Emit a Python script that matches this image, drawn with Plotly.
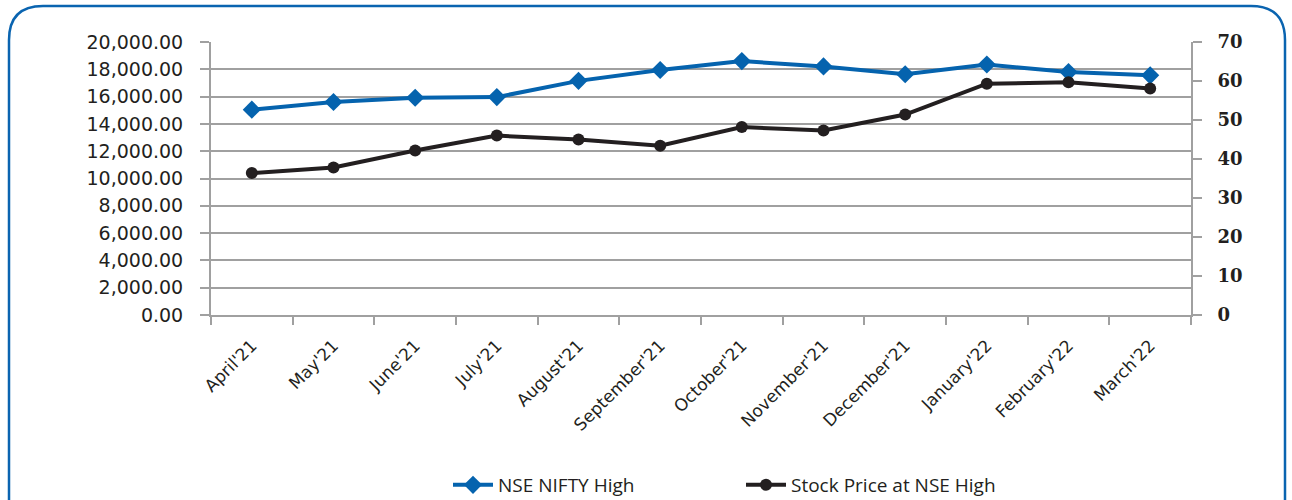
import plotly.graph_objects as go

months = ["April'21", "May'21", "June'21", "July'21", "August'21", "September'21",
          "October'21", "November'21", "December'21", "January'22", "February'22", "March'22"]
nifty_high = [15044, 15606, 15915, 15962, 17153, 17947, 18604, 18210, 17639, 18350, 17794, 17559]
stock_high = [36.4, 37.8, 42.2, 46.0, 45.0, 43.4, 48.2, 47.3, 51.4, 59.3, 59.7, 58.1]
left_ticks = [0, 2000, 4000, 6000, 8000, 10000, 12000, 14000, 16000, 18000, 20000]
right_ticks = [0, 10, 20, 30, 40, 50, 60, 70]

BLUE = "#0563AE"
BLACK = "#231F20"
GRID = "#A0A0A0"
TEXT = "#231F20"

W, H = 1292, 500
L, R, T, B = 211, 1191, 42, 315

def px(x):
    return (x - L) / (R - L)

def py(y):
    return (B - y) / (B - T)

fig = go.Figure()
fig.add_trace(go.Scatter(
    x=months, y=nifty_high, name="NSE NIFTY High", mode="lines+markers",
    line=dict(color=BLUE, width=4), marker=dict(symbol="diamond", size=14, color=BLUE),
    yaxis="y"))
fig.add_trace(go.Scatter(
    x=months, y=stock_high, name="Stock Price at NSE High", mode="lines+markers",
    line=dict(color=BLACK, width=4), marker=dict(symbol="circle", size=12, color=BLACK),
    yaxis="y2"))

r = 34
x0, x1, y0, ybot = 9, 1285, 6, 520
path = (f"M {px(x0)},{py(ybot)} L {px(x0)},{py(y0 + r)} Q {px(x0)},{py(y0)} {px(x0 + r)},{py(y0)} "
        f"L {px(x1 - r)},{py(y0)} Q {px(x1)},{py(y0)} {px(x1)},{py(y0 + r)} L {px(x1)},{py(ybot)}")

fig.update_layout(
    width=W, height=H,
    margin=dict(l=L, r=W - R, t=T, b=H - B, autoexpand=False),
    paper_bgcolor="white", plot_bgcolor="white",
    font=dict(family="Open Sans", color=TEXT),
    showlegend=True,
    legend=dict(orientation="h", x=px(448), xanchor="left", y=py(485), yanchor="middle",
                font=dict(family="Open Sans", size=19, color=TEXT),
                entrywidth=238, entrywidthmode="pixels", itemwidth=40,
                bgcolor="rgba(0,0,0,0)"),
    xaxis=dict(type="category", tickson="boundaries", ticks="outside", ticklen=8,
               tickcolor=GRID, tickwidth=2, showline=True, linecolor=GRID, linewidth=2,
               tickangle=-45, ticklabelstandoff=12,
               tickfont=dict(family="DejaVu Sans", size=17, color=TEXT),
               showgrid=False, range=[-0.5, 11.5]),
    yaxis=dict(range=[0, 20000], tickvals=left_ticks,
               ticktext=[f"{v:,.2f}" for v in left_ticks],
               ticks="outside", ticklen=9, tickcolor=GRID, tickwidth=2,
               showline=True, linecolor=GRID, linewidth=2, ticklabelstandoff=13,
               showgrid=True, gridcolor=GRID, gridwidth=2, zeroline=False,
               tickfont=dict(family="DejaVu Sans", size=19, color=TEXT)),
    yaxis2=dict(range=[0, 70], tickvals=right_ticks, overlaying="y", side="right",
                ticks="outside", ticklen=9, tickcolor=GRID, tickwidth=2,
                showline=True, linecolor=GRID, linewidth=2, showgrid=False, zeroline=False,
                ticklabelstandoff=12,
                tickfont=dict(family="DejaVu Serif", size=18, color=TEXT, weight="bold")),
    shapes=[dict(type="path", xref="paper", yref="paper", path=path,
                 line=dict(color="#0A64B0", width=2.5), layer="above")],
)

fig.write_html("out.html", config={"displayModeBar": False},
               post_script="document.body.style.margin='0';document.body.style.overflow='hidden';")
